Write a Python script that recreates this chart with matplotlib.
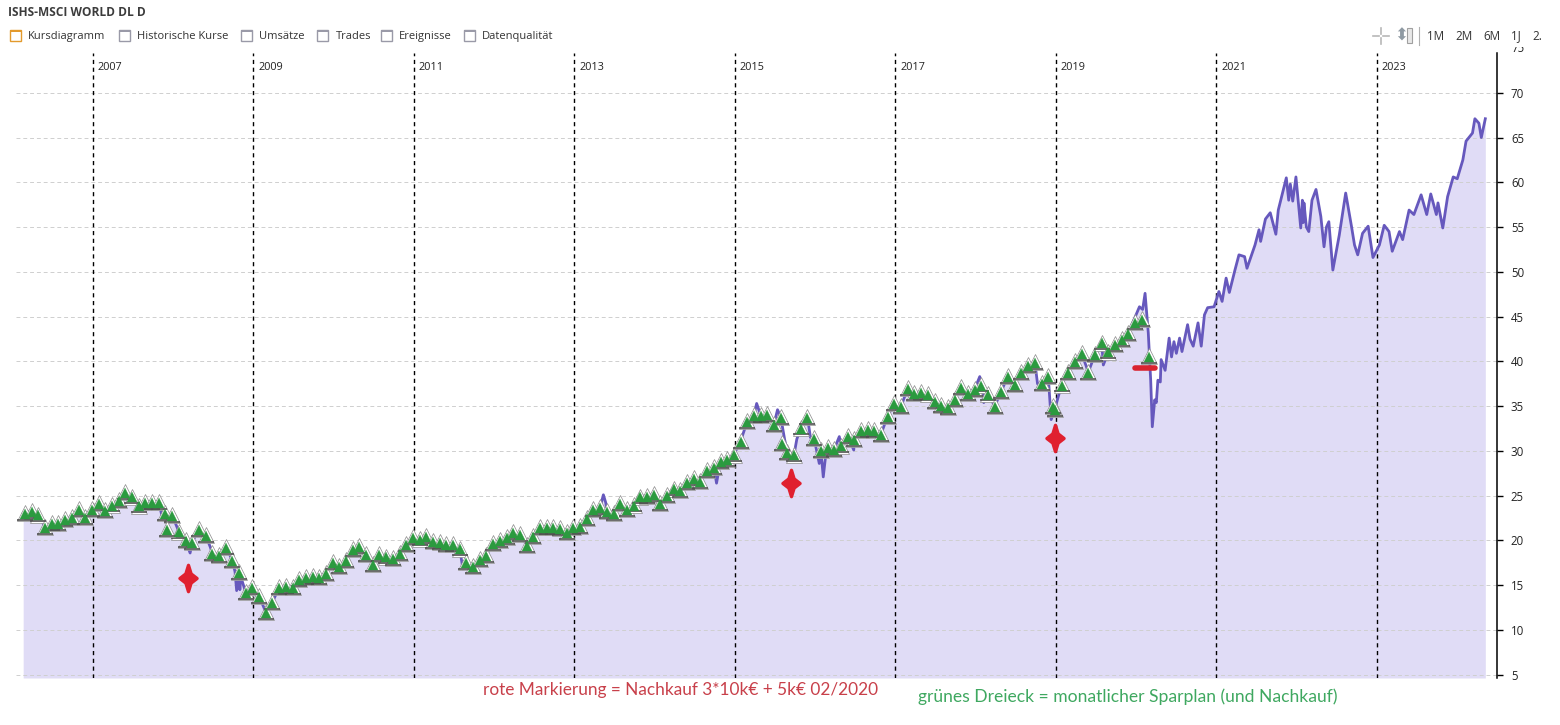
#!/usr/bin/python
import numpy as np
import matplotlib.pyplot as plt
from matplotlib.markers import MarkerStyle
from matplotlib.patches import Rectangle
from matplotlib.path import Path
plt.switch_backend('agg')

#*********************************** DATA **************************************
# monthly savings plan, one price per month from 02/2006 to 02/2020
sparplan_start = 2006.153
sparplan_kurse = [
    23.1, 23.3, 22.9, 21.5, 21.9, 21.9, 22.4, 22.6, 23.5, 22.6,
    23.5, 24.2, 23.4, 24.0, 24.5, 25.4, 24.9, 23.9, 24.3, 24.3,
    24.3, 23.1, 22.8, 21.0, 20.0, 19.8, 21.3, 20.6, 18.6, 18.4,
    19.3, 17.8, 16.5, 14.2, 14.8, 13.8, 12.0, 13.1, 14.8, 14.9,
    14.8, 15.7, 15.9, 16.0, 15.9, 16.4, 17.6, 17.1, 17.8, 19.0,
    19.4, 18.5, 17.4, 18.5, 18.2, 18.0, 18.6, 19.6, 20.4, 20.2,
    20.5, 19.9, 19.8, 19.6, 19.6, 19.1, 17.6, 17.1, 17.9, 18.4,
    19.7, 20.0, 20.4, 20.9, 20.7, 19.5, 20.5, 21.5, 21.5, 21.5,
    21.4, 20.9, 21.5, 21.6, 22.5, 23.5, 23.7, 23.3, 23.1, 24.2,
    23.5, 24.0, 24.9, 25.0, 25.2, 24.2, 25.1, 25.8, 25.6, 26.5,
    27.0, 26.6, 27.9, 28.2, 28.9, 29.1, 29.6, 31.1, 33.3, 34.0,
    34.0, 34.1, 33.0, 33.8, 29.9, 29.6, 32.6, 33.8, 31.4, 30.1,
    30.4, 30.2, 30.6, 31.7, 31.3, 32.3, 32.4, 32.3, 31.9, 33.9,
    35.3, 35.0, 37.0, 36.5, 36.6, 36.4, 35.6, 35.1, 34.9, 35.8,
    37.1, 36.5, 36.9, 37.4, 36.4, 35.0, 36.7, 38.4, 37.5, 38.8,
    39.6, 39.9, 37.6, 38.4, 34.7, 37.4, 38.8, 40.0, 40.9, 38.8,
    40.8, 42.1, 41.1, 41.9, 42.5, 43.2, 44.4, 44.7, 40.6,
]
# extra buys drawn with the same triangle
extra_jahre = [2007.92, 2015.58, 2018.96]
extra_kurse = [21.3, 30.9, 35.0]

# price line: spikes between the plan dates up to 2020
zacken_jahre = [2006.13, 2007.87, 2008.21, 2008.46, 2008.77, 2008.79, 2008.81, 2008.83, 2008.84,
                2011.61, 2013.36, 2013.39, 2014.77, 2015.27, 2015.53, 2015.62, 2015.77,
                2015.94, 2016.05, 2016.10, 2016.13, 2016.30, 2016.48, 2018.05, 2018.10,
                2018.77, 2018.94, 2019.59]
zacken_kurse = [23.0, 22.3, 18.6, 19.3, 16.5, 14.4, 15.8, 14.5, 16.0,
                16.8, 25.1, 24.2, 26.4, 35.3, 34.6, 31.2, 31.3,
                31.5, 28.6, 27.1, 29.5, 31.6, 30.1, 38.3, 35.4,
                37.5, 33.5, 39.6]

# price line from the 2020 crash on
kurs_jahre = [2020.04, 2020.08, 2020.11, 2020.15, 2020.18, 2020.20, 2020.23, 2020.25, 2020.27, 2020.30,
              2020.31, 2020.36, 2020.41, 2020.44, 2020.47, 2020.50, 2020.54, 2020.57, 2020.64, 2020.67,
              2020.71, 2020.77, 2020.81, 2020.85, 2020.89, 2020.97, 2021.03, 2021.07, 2021.12, 2021.16,
              2021.23, 2021.28, 2021.35, 2021.38, 2021.48, 2021.53, 2021.55, 2021.61, 2021.67, 2021.71,
              2021.74, 2021.77, 2021.87, 2021.90, 2021.92, 2021.95, 2021.99, 2022.05, 2022.07, 2022.08,
              2022.09, 2022.12, 2022.15, 2022.19, 2022.24, 2022.30, 2022.34, 2022.37, 2022.40, 2022.45,
              2022.53, 2022.61, 2022.68, 2022.72, 2022.76, 2022.82, 2022.89, 2022.95, 2023.03, 2023.09,
              2023.15, 2023.19, 2023.28, 2023.32, 2023.40, 2023.46, 2023.55, 2023.62, 2023.67, 2023.74,
              2023.76, 2023.82, 2023.88, 2023.95, 2024.00, 2024.07, 2024.11, 2024.19, 2024.22, 2024.27,
              2024.30, 2024.35]
kurs_werte = [46.1, 45.8, 47.6, 43.2, 37.9, 32.7, 35.7, 35.4, 37.9, 37.7,
              40.2, 39.0, 42.6, 40.5, 42.2, 40.9, 42.6, 41.1, 44.1, 42.5,
              41.7, 44.3, 41.7, 45.2, 46.0, 46.1, 47.8, 46.7, 49.3, 47.7,
              50.2, 51.9, 51.7, 50.4, 53.0, 54.7, 53.4, 55.9, 56.6, 55.2,
              54.2, 56.9, 60.5, 58.0, 59.8, 57.9, 60.6, 54.9, 58.0, 55.5,
              57.7, 55.0, 54.5, 58.0, 59.2, 56.2, 52.8, 55.0, 55.6, 50.2,
              54.1, 58.8, 55.2, 53.0, 51.9, 54.3, 55.1, 51.6, 53.0, 55.2,
              54.5, 52.3, 54.5, 53.6, 56.9, 56.4, 58.6, 56.4, 58.7, 56.4,
              57.7, 54.9, 58.4, 60.6, 60.4, 62.5, 64.6, 65.5, 67.1, 66.6,
              65.0, 67.1]

nachkauf_jahre = [2008.19, 2015.70, 2018.99]
nachkauf_kurse = [15.8, 26.4, 31.4]
nachkauf_2020_jahr = [2020.11]
nachkauf_2020_kurs = [39.3]

jahr_labels = [2007, 2009, 2011, 2013, 2015, 2017, 2019, 2021, 2023]
y_ticks = [5, 10, 15, 20, 25, 30, 35, 40, 45, 50, 55, 60, 65, 70]
tabs = ["Kursdiagramm", "Historische Kurse", "Umsätze", "Trades", "Ereignisse", "Datenqualität"]
zeitraeume = ["1M", "2M", "6M", "1J", "2."]

#*********************************** STYLE *************************************
W, H = 1560, 725
UI_FONT = "Open Sans"
NOTE_FONT = "Lato"
LINE_COLOR = "#6658bd"
FILL_COLOR = "#e0dcf6"
RED = "#e0202f"
TRI_GREEN = "#2b9a3f"
X_MIN, X_MAX = 2006.0405, 2024.4955

# four pointed star for the red markings, taller than wide
STERN = Path([(0, 1), (0.2, 0.35), (0.65, 0), (0.2, -0.35), (0, -1), (-0.2, -0.35), (-0.65, 0), (-0.2, 0.35), (0, 1)], closed=True)

#*********************************** HELPERS ***********************************
def fx(px):
    return px / W

def fy(py):
    return 1 - py / H

def draw_triangles(ax, x, y):
    ax.plot(x, y, ls="none", marker="^", ms=11, mfc="white", mec="#8a8a8a", mew=0.5, zorder=5)
    ax.plot(x, np.array(y) - 0.76, ls="none", marker="_", ms=11, mec="#505050", mew=1.2, zorder=5)
    ax.plot(x, np.array(y) - 0.1, ls="none", marker="^", ms=6.8, mfc=TRI_GREEN, mec=TRI_GREEN, mew=0.2, zorder=6)

#************************************ MAIN *************************************
fig = plt.figure(figsize=(W / 100, H / 100), dpi=100, facecolor="white")
ax = fig.add_axes([fx(16), fy(678), fx(1497 - 16), (678 - 48) / H])
ax.set_xlim(X_MIN, X_MAX)
y_unten, y_oben = 4.64, 75.0
ax.set_ylim(y_unten, y_oben)

sparplan_jahre = sparplan_start + np.arange(len(sparplan_kurse)) / 12
line_x = np.concatenate([sparplan_jahre[:166], zacken_jahre])
line_y = np.concatenate([sparplan_kurse[:166], zacken_kurse])
order = np.argsort(line_x)
line_x = np.concatenate([line_x[order], kurs_jahre])
line_y = np.concatenate([line_y[order], kurs_werte])

ax.fill_between(line_x, line_y, y_unten, color=FILL_COLOR, lw=0, zorder=1)
ax.hlines(y_ticks, X_MIN, X_MAX, color="#cfcfcf", lw=0.7, linestyles=(0, (4, 3)), zorder=2)
ax.vlines(jahr_labels, y_unten, 74.45, color="black", lw=1.0, linestyles=(0, (3, 2.6)), zorder=2)
ax.plot(line_x, line_y, color=LINE_COLOR, lw=2.0, zorder=3, solid_joinstyle="round")

draw_triangles(ax, sparplan_jahre, sparplan_kurse)
draw_triangles(ax, extra_jahre, extra_kurse)

# red markings
ax.plot(nachkauf_jahre, nachkauf_kurse, ls="none", marker=STERN, ms=19, mfc=RED, mec=RED, mew=2.4, zorder=7)
bar = MarkerStyle("_", capstyle="round")
ax.plot(nachkauf_2020_jahr, nachkauf_2020_kurs, ls="none", marker=bar, ms=14, mec="#d9232f", mew=4, zorder=7)

for j in jahr_labels:
    ax.text(j + 0.06, 72.8, str(j), fontsize=7.8, family=UI_FONT, color="#222222", va="center", ha="left")

for side in ["top", "left", "bottom"]:
    ax.spines[side].set_visible(False)
ax.spines["right"].set_bounds(y_unten, 74.45)
ax.spines["right"].set_linewidth(1.1)
ax.set_xticks([])
ax.yaxis.tick_right()
ax.set_yticks(y_ticks)
ax.tick_params(axis="y", length=4.5, width=1, pad=5.5, labelsize=8.3, labelcolor="#222222")
for label in ax.get_yticklabels():
    label.set_family(UI_FONT)
fig.text(fx(1511), fy(48), "75", fontsize=8.3, family=UI_FONT, color="#222222", va="center", ha="left", zorder=1)

# header strip hides the top of the 75 label
fig.add_artist(Rectangle((0, fy(47)), 1, 47 / H, transform=fig.transFigure, fc="white", ec="none", zorder=2))

fig.text(fx(8), fy(13), "ISHS-MSCI WORLD DL D", fontsize=8.6, weight="bold", family=UI_FONT,
         color="#3c3c3c", va="center", ha="left", zorder=3)
tab_icon_x = [10, 119, 241, 317, 381, 464]
tab_text_x = [28, 137, 259, 336, 399, 482]
for i, tab in enumerate(tabs):
    edge = "#e39a2d" if i == 0 else "#9a9aa8"
    fig.add_artist(Rectangle((fx(tab_icon_x[i]), fy(41)), 11 / W, 11 / H, transform=fig.transFigure,
                             fc="white", ec=edge, lw=1, zorder=3))
    fig.add_artist(Rectangle((fx(tab_icon_x[i]), fy(32)), 11 / W, 2 / H, transform=fig.transFigure,
                             fc=edge, ec="none", zorder=3))
    fig.text(fx(tab_text_x[i]), fy(36.5), tab, fontsize=8, family=UI_FONT, color="#333333",
             va="center", ha="left", zorder=3)

# toolbar top right
fig.add_artist(plt.Line2D([fx(1373), fx(1379)], [fy(36), fy(36)], color="#b8b8b8", lw=1.2, zorder=3))
fig.add_artist(plt.Line2D([fx(1383), fx(1389)], [fy(36), fy(36)], color="#b8b8b8", lw=1.2, zorder=3))
fig.add_artist(plt.Line2D([fx(1381), fx(1381)], [fy(28), fy(34)], color="#b8b8b8", lw=1.2, zorder=3))
fig.add_artist(plt.Line2D([fx(1381), fx(1381)], [fy(38), fy(44)], color="#b8b8b8", lw=1.2, zorder=3))
fig.text(fx(1401), fy(35.5), "⬍", fontsize=12, color="#8f9aa3", ha="center", va="center", zorder=3)
fig.add_artist(Rectangle((fx(1407), fy(43)), 5 / W, 15 / H, transform=fig.transFigure,
                         fc="#e8e8e8", ec="#a0a0a0", lw=0.8, zorder=3))
fig.add_artist(plt.Line2D([fx(1419), fx(1419)], [fy(27), fy(45)], color="#b0b0b0", lw=0.8, zorder=3))
zeitraum_x = [1427, 1455, 1483, 1511, 1532]
for x, t in zip(zeitraum_x, zeitraeume):
    fig.text(fx(x), fy(36), t, fontsize=8.4, family=UI_FONT, color="#333333", va="center", ha="left", zorder=3)

# notes under the chart
fig.text(fx(483), fy(690), "rote Markierung = Nachkauf 3*10k€ + 5k€ 02/2020", fontsize=12.4, family=NOTE_FONT,
         color="#c8404a", va="center", ha="left")
fig.text(fx(918), fy(697), "grünes Dreieck = monatlicher Sparplan (und Nachkauf)", fontsize=12.6, family=NOTE_FONT,
         color="#3fa860", va="center", ha="left")

plt.savefig("out.png", dpi=100)
